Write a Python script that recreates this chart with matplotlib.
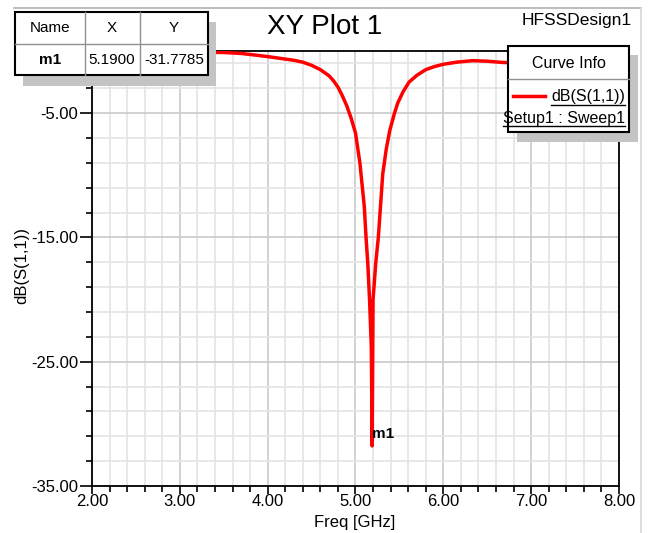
import matplotlib
matplotlib.use('Agg')
import matplotlib.pyplot as plt
from matplotlib.patches import Rectangle
from matplotlib.lines import Line2D
import numpy as np

plt.rcParams['font.family'] = ['Liberation Sans', 'DejaVu Sans']

# S11 sweep
freq = [2.0, 2.5, 3.0, 3.5, 3.7, 3.85, 4.0, 4.1, 4.2, 4.3, 4.4, 4.5, 4.6, 4.65,
        4.7, 4.75, 4.8, 4.85, 4.9, 4.95, 5.0, 5.05, 5.1, 5.12, 5.14, 5.16, 5.18,
        5.19, 5.2, 5.23, 5.26, 5.31, 5.35, 5.39, 5.44, 5.48, 5.54, 5.61, 5.7,
        5.8, 5.9, 6.0, 6.15, 6.33, 6.5, 6.67, 7.0, 7.5, 8.0]
s11 = [-0.05, -0.06, -0.08, -0.12, -0.2, -0.32, -0.45, -0.55, -0.65, -0.75,
       -0.9, -1.15, -1.5, -1.75, -2.0, -2.4, -2.9, -3.6, -4.4, -5.4, -6.6, -9.0,
       -12.5, -15.0, -17.1, -20.0, -23.8, -31.7785, -20.0, -17.1, -15.0, -9.9,
       -7.9, -6.4, -5.1, -4.2, -3.3, -2.5, -1.95, -1.5, -1.25, -1.07, -0.9,
       -0.78, -0.82, -0.92, -1.0, -1.0, -0.9]

marker_name = 'm1'
marker_x = 5.19
marker_y = -31.7785

xticks = [2, 3, 4, 5, 6, 7, 8]
yticks = [-35, -25, -15, -5]

W, H = 648, 533
fig = plt.figure(figsize=(W / 100, H / 100), dpi=100)

def fx(px):
    return px / W

def fy(py):
    return 1 - py / H

# outer frame lines
fig.add_artist(Line2D([fx(14), fx(641)], [fy(8), fy(8)], color='#b0b0b0', lw=1.2))
fig.add_artist(Line2D([fx(641), fx(641)], [fy(8), fy(533)], color='#d8d8d8', lw=1.2))

ax = fig.add_axes([fx(92), fy(486), fx(619) - fx(92), fy(51) - fy(486)])
ax.set_xlim(2, 8)
ax.set_ylim(-35, 0)
ax.set_xticks(xticks)
ax.set_xticklabels(['%.2f' % v for v in xticks])
ax.set_yticks(yticks)
ax.set_yticklabels(['%.2f' % v for v in yticks])
ax.set_xticks(np.arange(2, 8.01, 0.2), minor=True)
ax.set_yticks(np.arange(-35, 0.01, 2), minor=True)
ax.grid(which='minor', color='#e4e4e4', lw=1.2)
ax.grid(which='major', color='#cacaca', lw=1.2)
ax.set_axisbelow(True)
ax.tick_params(which='major', direction='out', length=9, width=1.2, labelsize=12, pad=1)
ax.tick_params(axis='x', which='major', length=6, pad=0)
ax.tick_params(which='minor', direction='out', length=4, width=1.2)
for s in ax.spines.values():
    s.set_linewidth(1.3)

ax.plot(freq, s11, color='#ff0000', lw=2.5, zorder=3)
ax.text(marker_x, marker_y + 1.0, marker_name, fontsize=11, fontweight='bold',
        ha='left', va='center', zorder=5)

fig.text(fx(355), fy(522), 'Freq [GHz]', ha='center', va='center', fontsize=12)
fig.text(fx(22), fy(265), 'dB(S(1,1))', ha='center', va='center', fontsize=12, rotation=90)

fig.text(fx(325), fy(27), 'XY Plot 1', ha='center', va='center', fontsize=20)
fig.text(fx(632), fy(21), 'HFSSDesign1', ha='right', va='center', fontsize=12.5)

# marker table (top left)
def box(x0, y0, x1, y1, **kw):
    r = Rectangle((fx(x0), fy(y1)), fx(x1) - fx(x0), fy(y0) - fy(y1),
                  transform=fig.transFigure, **kw)
    fig.add_artist(r)

box(23, 22, 216, 86, facecolor='#c4c4c4', edgecolor='none', zorder=10)
box(15, 12, 208, 75, facecolor='white', edgecolor='black', lw=1.5, zorder=11)
for xc in [85, 140]:
    fig.add_artist(Line2D([fx(xc), fx(xc)], [fy(12), fy(75)], color='#909090', lw=1.0, zorder=12))
fig.add_artist(Line2D([fx(15), fx(208)], [fy(44), fy(44)], color='#909090', lw=1.0, zorder=12))
head = ['Name', 'X', 'Y']
row = [marker_name, '%.4f' % marker_x, '%.4f' % marker_y]
cx = [50, 112, 174]
for c, h, v in zip(cx, head, row):
    fig.text(fx(c), fy(28), h, ha='center', va='center', fontsize=11, zorder=13)
    fig.text(fx(c), fy(60), v, ha='center', va='center', fontsize=11, zorder=13,
             fontweight='bold' if v == marker_name else 'normal')

# curve info legend (top right)
box(517, 55, 638, 142, facecolor='#c4c4c4', edgecolor='none', zorder=10)
box(508, 46, 629, 132, facecolor='white', edgecolor='black', lw=1.5, zorder=11)
fig.add_artist(Line2D([fx(508), fx(629)], [fy(79), fy(79)], color='#909090', lw=1.0, zorder=12))
fig.text(fx(569), fy(63), 'Curve Info', ha='center', va='center', fontsize=11.5, zorder=13)
fig.add_artist(Line2D([fx(513), fx(545)], [fy(96), fy(96)], color='#ff0000', lw=2.5, zorder=13))
r = fig.canvas.get_renderer()
for txt, yy in [('dB(S(1,1))', 97), ('Setup1 : Sweep1', 118)]:
    t = fig.text(fx(625), fy(yy), txt, ha='right', va='center', fontsize=11.5, zorder=13)
    bb = t.get_window_extent(renderer=r)
    fig.add_artist(Line2D([bb.x0 / W, bb.x1 / W], [fy(yy + 8), fy(yy + 8)],
                          color='black', lw=1.0, zorder=13))

fig.savefig('out.png', dpi=100)
